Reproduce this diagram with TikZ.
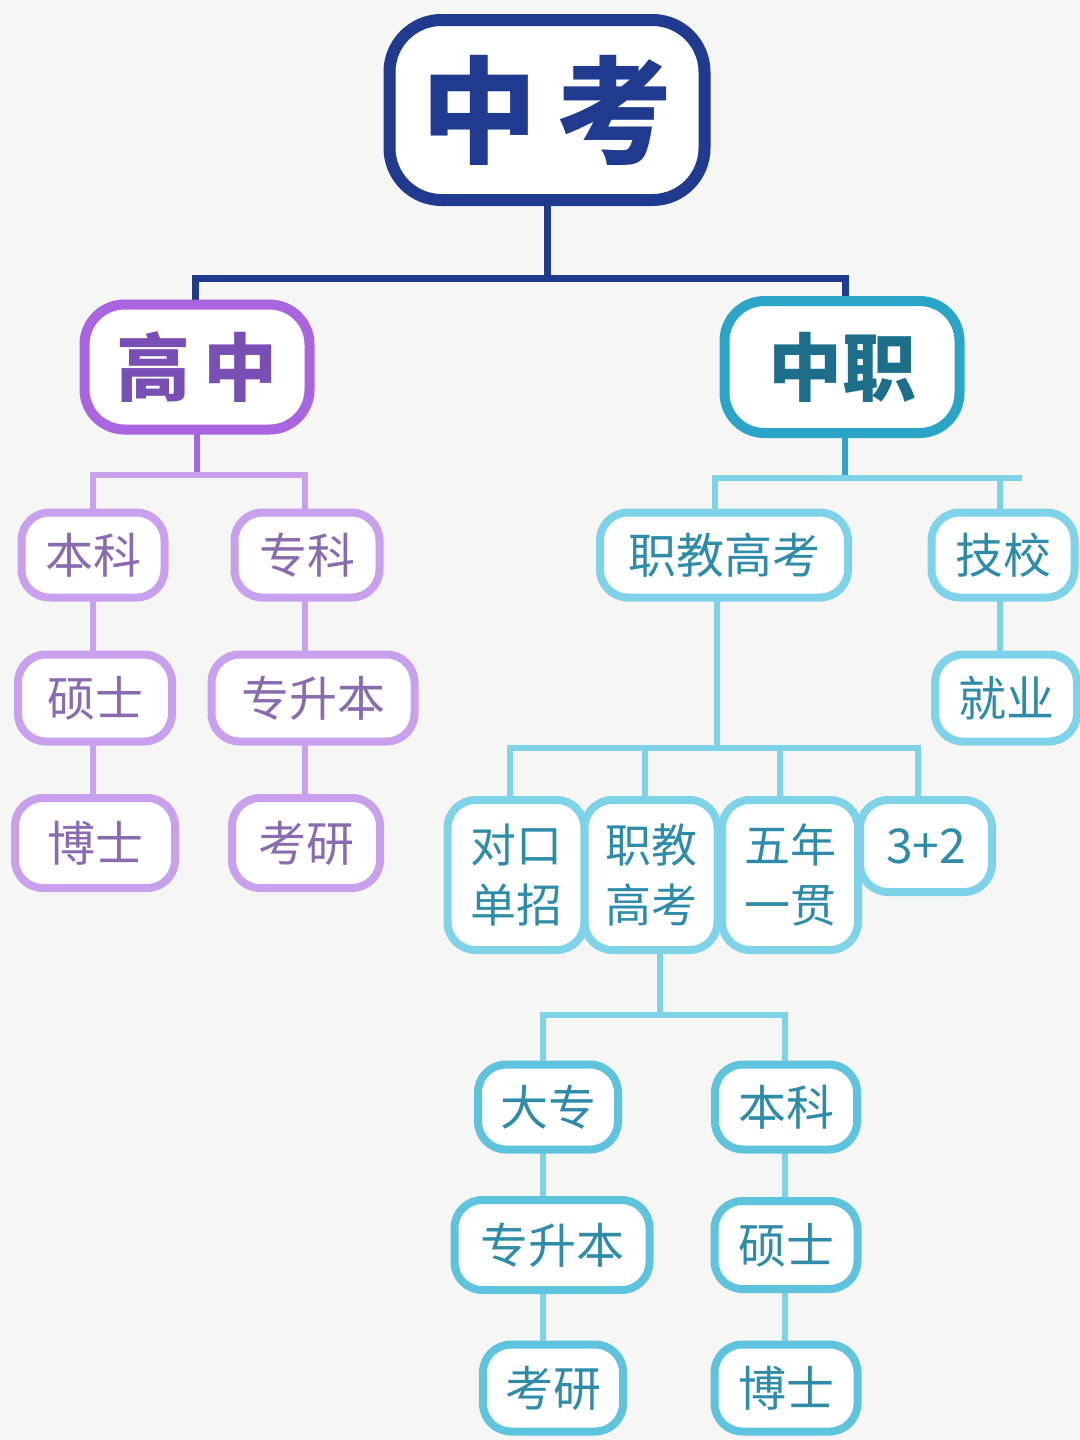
\documentclass[tikz,border=0pt]{standalone}
\usepackage{fontspec}
\newfontfamily\cjk{Noto Sans CJK SC}
\definecolor{bg}{HTML}{F6F6F4}
\definecolor{navy}{HTML}{1F3A8F}
\definecolor{purp}{HTML}{A965E0}
\definecolor{purptx}{HTML}{7A4FB5}
\definecolor{lpurp}{HTML}{C9A0EE}
\definecolor{lpurptx}{HTML}{8A6BB0}
\definecolor{teal}{HTML}{2AA5C8}
\definecolor{tealtx}{HTML}{1D6E8A}
\definecolor{cyan1}{HTML}{7FD3E8}
\definecolor{cyantx}{HTML}{2E8CA8}
\definecolor{cyan2}{HTML}{5EC3DD}
\tikzset{
 box/.style 2 args={draw,rounded corners=14pt,fill=white,minimum width=#1*0.5pt,minimum height=#2*0.5pt,inner sep=0pt,align=center,font=\cjk},
 pl/.style={draw=lpurp,line width=4pt,text=lpurptx,font=\cjk\fontsize{24}{30}\selectfont},
 cl/.style={draw=cyan1,line width=4pt,text=cyantx,font=\cjk\fontsize{24}{30}\selectfont},
 cl2/.style={draw=cyan2,line width=4pt,text=cyantx,font=\cjk\fontsize{24}{30}\selectfont},
 pline/.style={draw=lpurp,line width=3pt},
 cline/.style={draw=cyan1,line width=3pt},
}
\begin{document}
\begin{tikzpicture}[x=0.5pt,y=-0.5pt]
\fill[bg] (0,0) rectangle (1080,1440);
\useasboundingbox (0,0) rectangle (1080,1440);
% lines
\draw[navy,line width=3.5pt] (547,200) -- (547,278) (195,300) |- (845,278) -- (845,300);
\draw[purp,line width=3pt] (197,430) -- (197,475);
\draw[pline] (93,510) |- (305,475) -- (305,510);
\draw[pline] (93,597) -- (93,800) (305,597) -- (305,800);
\draw[teal,line width=3pt] (845,435) -- (845,478);
\draw[cline] (715,515) |- (1022,478) (1000,478) -- (1000,515);
\draw[cline] (1000,598) -- (1000,655);
\draw[cline] (717,598) -- (717,748) (510,800) |- (918,748) -- (918,800) (645,748) -- (645,800) (780,748) -- (780,800);
\draw[cline] (660,950) -- (660,1015) (543,1065) |- (785,1015) -- (785,1065);
\draw[cline] (543,1150) -- (543,1345) (785,1150) -- (785,1345);
% nodes
\node[box={315}{180},draw=navy,line width=6pt,rounded corners=26pt,text=navy,font=\cjk\bfseries\fontsize{58}{60}\selectfont] (zk) at (547,110) {中\,考};
\node[box={225}{125},draw=purp,line width=5pt,rounded corners=20pt,text=purptx,font=\cjk\bfseries\fontsize{37}{40}\selectfont] (gz) at (197,367) {高\,中};
\node[box={235}{132},draw=teal,line width=5pt,rounded corners=20pt,text=tealtx,font=\cjk\bfseries\fontsize{37}{40}\selectfont] (zz) at (842,367) {中职};
\node[box={143}{85},pl] (bk1) at (93,555) {本科};
\node[box={145}{85},pl] (zk1) at (307,555) {专科};
\node[box={154}{87},pl] (ss1) at (95,698) {硕士};
\node[box={203}{87},pl] (zsb1) at (313,698) {专升本};
\node[box={160}{90},pl] (bs1) at (95,843) {博士};
\node[box={148}{90},pl] (ky1) at (306,843) {考研};
\node[box={248}{85},cl] (zjgk) at (724,555) {职教高考};
\node[box={143}{85},cl] (jx) at (1003,555) {技校};
\node[box={142}{87},cl] (jy) at (1006,698) {就业};
\node[box={137}{150},cl,font=\cjk\fontsize{23}{30}\selectfont] (dk) at (516,875) {对口\\单招};
\node[box={133}{150},cl,font=\cjk\fontsize{23}{30}\selectfont] (zj2) at (651,875) {职教\\高考};
\node[box={136}{150},cl,font=\cjk\fontsize{23}{30}\selectfont] (wn) at (790,875) {五年\\一贯};
\node[box={132}{92},cl] (sj) at (926,846) {3+2};
\node[box={140}{85},cl2] (dz) at (548,1107) {大专};
\node[box={142}{85},cl2] (bk2) at (786,1107) {本科};
\node[box={195}{90},cl2] (zsb2) at (552,1245) {专升本};
\node[box={143}{88},cl2] (ss2) at (786,1245) {硕士};
\node[box={140}{87},cl2] (ky2) at (553,1388) {考研};
\node[box={143}{87},cl2] (bs2) at (786,1388) {博士};
\end{tikzpicture}
\end{document}
